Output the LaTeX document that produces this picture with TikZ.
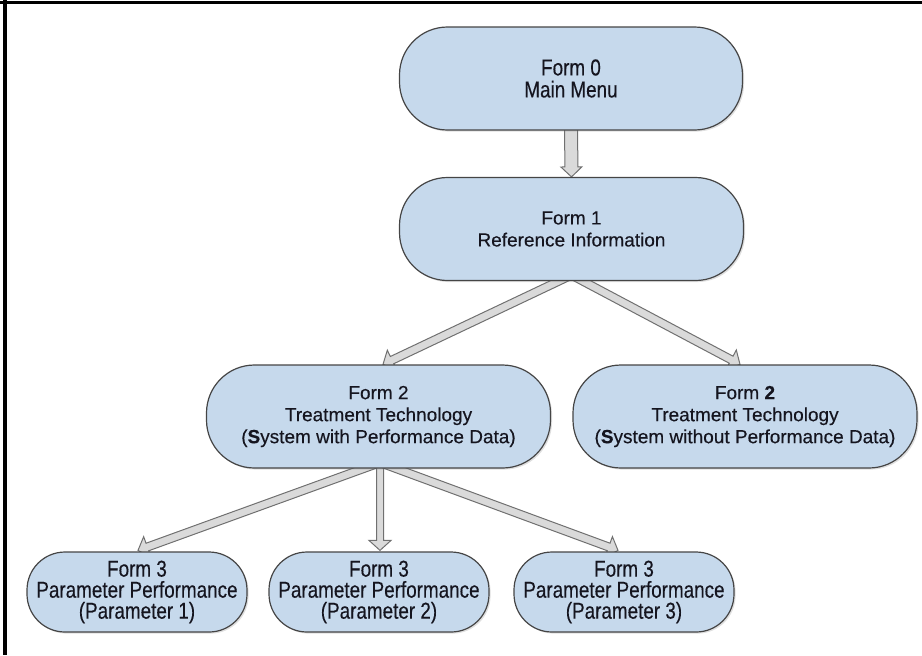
\documentclass[tikz,border=0pt]{standalone}
\usepackage{fontspec}
\setmainfont{Liberation Sans}[FakeBold=0.3]
\newfontfamily\narrowf[FakeStretch=0.82,FakeBold=0.3]{Liberation Sans}
\usetikzlibrary{calc,shadows}
\pgfdeclarelayer{bg}
\pgfsetlayers{bg,main}
\definecolor{boxfill}{HTML}{C6D9EC}
\definecolor{boxline}{HTML}{454545}
\definecolor{arrfill}{HTML}{DADADA}
\definecolor{arrline}{HTML}{707070}
\definecolor{txt}{HTML}{15151F}
\tikzset{
  formbox/.style={rectangle, draw=boxline, fill=boxfill, line width=0.6pt, text=txt, align=center, inner sep=0pt,
    drop shadow={shadow xshift=0.8pt, shadow yshift=-0.8pt, opacity=0.25}},
  widebox/.style={formbox, rounded corners=24pt, minimum width=172pt, minimum height=51.5pt, font=\fontsize{9.5}{11}\selectfont},
  topbox/.style={formbox, rounded corners=24pt, minimum width=171.5pt, minimum height=51.5pt, font=\narrowf\fontsize{11.5}{11}\selectfont},
  smallbox/.style={formbox, rounded corners=19pt, minimum width=110pt, minimum height=40pt, font=\narrowf\fontsize{11.5}{10.5}\selectfont},
  arrowsty/.style={draw=arrline, fill=arrfill, line width=0.5pt, line join=miter},
}
% #1 tail, #2 tip, #3 half shaft width, #4 half head width
\newcommand\blockarr[4]{%
  \coordinate (hb) at ($(#2)!5pt!(#1)$);
  \begin{pgfonlayer}{bg}
  \draw[arrowsty] ($(#1)!#3!90:(#2)$) -- ($(hb)!#3!90:(#2)$) -- ($(hb)!#4!90:(#2)$) -- (#2)
     -- ($(hb)!#4!-90:(#2)$) -- ($(hb)!#3!-90:(#2)$) -- ($(#1)!#3!-90:(#2)$) -- cycle;
  \end{pgfonlayer}}
\begin{document}
\begin{tikzpicture}[x=0.5pt,y=-0.5pt]
\useasboundingbox (0,0) rectangle (922,655);
\draw[line width=1.5pt] (0,2.5) -- (922,2.5);
\draw[line width=2pt] (5,0) -- (5,655);

\node[topbox] (f0) at (571,78.5) {Form 0\\Main Menu};
\node[widebox] (f1) at (571.5,229) {Form 1\\Reference Information};
\node[widebox] (f2a) at (378.5,416.5) {Form 2\\Treatment Technology\\(\textbf{S}ystem with Performance Data)};
\node[widebox] (f2b) at (745,416.5) {Form \textbf{2}\\Treatment Technology\\(\textbf{S}ystem without Performance Data)};
\node[smallbox] (f3a) at (137,592) {Form 3\\Parameter Performance\\(Parameter 1)};
\node[smallbox] (f3b) at (379,592) {Form 3\\Parameter Performance\\(Parameter 2)};
\node[smallbox] (f3c) at (624,592) {Form 3\\Parameter Performance\\(Parameter 3)};

\coordinate (s0) at ($(f0.south)+(0,-6)$);
\coordinate (s1) at ($(f1.south)+(0,-6)$);
\coordinate (s2) at ($(f2a.south)+(1.5,-6)$);
\coordinate (t2a) at ($(f2a.north)+(4.5,0)$);
\coordinate (t2b) at ($(f2b.north)+(-5,0)$);
\coordinate (t3a) at ($(f3a.north)+(1,-1)$);
\coordinate (t3b) at ($(f3b.north)+(1,-1)$);
\coordinate (t3c) at ($(f3c.north)+(-6,-1)$);

\blockarr{s0}{f1.north}{3.25pt}{5.25pt}
\blockarr{s1}{t2a}{2pt}{5.5pt}
\blockarr{s1}{t2b}{2pt}{5.5pt}
\blockarr{s2}{t3a}{2pt}{5.5pt}
\blockarr{s2}{t3b}{1.75pt}{5.5pt}
\blockarr{s2}{t3c}{2pt}{5.5pt}
\end{tikzpicture}
\end{document}
